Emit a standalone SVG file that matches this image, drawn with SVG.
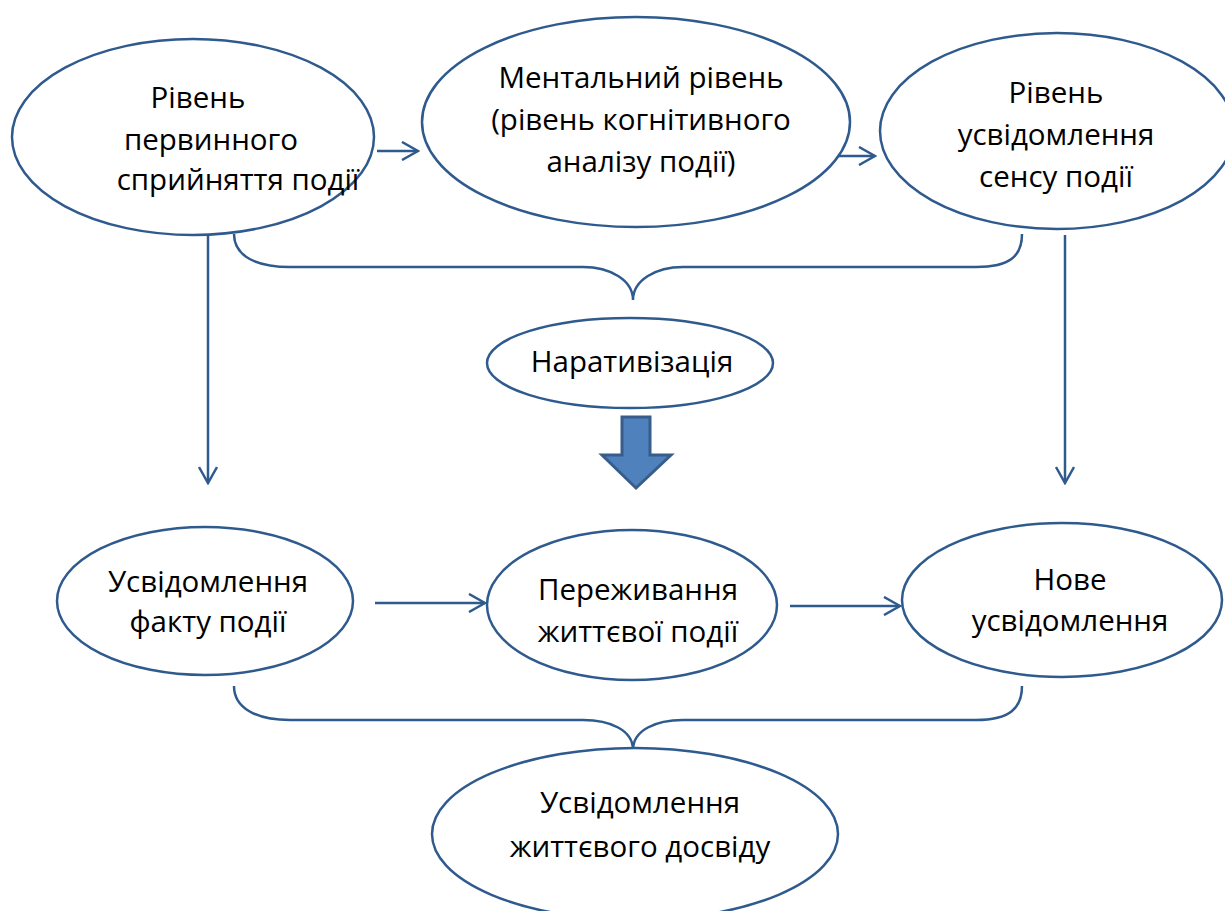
<svg xmlns="http://www.w3.org/2000/svg" width="1225" height="911" viewBox="0 0 1225 911">
<style>
.n ellipse{fill:#fff;stroke:#2F5A8E;stroke-width:2.5}
.n text{font-family:"Open Sans","Noto Sans",sans-serif;font-size:29.5px;fill:#000;text-anchor:middle}
.c path,.c line{fill:none;stroke:#2F5A8E;stroke-width:2.5}
.c path.block{fill:#4F81BD;stroke:#385D8A;stroke-width:3;stroke-linejoin:miter}
</style>
<defs>
<marker id="ah" viewBox="0 0 20 20" refX="18" refY="10" markerWidth="20" markerHeight="20" markerUnits="userSpaceOnUse" orient="auto">
<path d="M2 1 L18 10 L2 19" fill="none" stroke="#2F5A8E" stroke-width="2.5"/>
</marker>
</defs>
<rect width="1225" height="911" fill="#fff"/>
<g class="c" id="connectors">
<line x1="377" y1="151" x2="418" y2="151" marker-end="url(#ah)"/>
<line x1="833" y1="156" x2="875" y2="156" marker-end="url(#ah)"/>
<line x1="208" y1="235" x2="208" y2="483" marker-end="url(#ah)"/>
<line x1="1065" y1="235" x2="1065" y2="483" marker-end="url(#ah)"/>
<line x1="375" y1="603" x2="485" y2="603" marker-end="url(#ah)"/>
<line x1="790" y1="606" x2="900" y2="606" marker-end="url(#ah)"/>
<path d="M234 234 C234 256 256 267 290 267 H583 C610 267 633 280 633 300 C633 280 656 267 683 267 H976 C1010 267 1022 256 1022 234"/>
<path d="M234 686 C234 708 256 720 290 720 H583 C610 720 633 730 633 750 C633 730 656 720 683 720 H976 C1010 720 1022 708 1022 686"/>
<path class="block" d="M622 417 H650 V455 H671 L636 488 L602 455 H622 Z"/>
</g>
<g class="n" id="n1">
<ellipse cx="193" cy="137" rx="181" ry="98"/>
<text x="198" y="108">Рівень</text>
<text x="211" y="150">первинного</text>
<text x="238" y="190">сприйняття події</text>
</g>
<g class="n" id="n2">
<ellipse cx="636" cy="122" rx="214" ry="105"/>
<text x="641" y="88">Ментальний рівень</text>
<text x="641" y="130">(рівень когнітивного</text>
<text x="641" y="172">аналізу події)</text>
</g>
<g class="n" id="n3">
<ellipse cx="1057" cy="131" rx="177" ry="98"/>
<text x="1056" y="103">Рівень</text>
<text x="1056" y="145">усвідомлення</text>
<text x="1056" y="187">сенсу події</text>
</g>
<g class="n" id="n4">
<ellipse cx="630" cy="363" rx="143" ry="45"/>
<text x="632" y="372">Наративізація</text>
</g>
<g class="n" id="n5">
<ellipse cx="205" cy="601" rx="148" ry="74"/>
<text x="208" y="592">Усвідомлення</text>
<text x="208" y="632">факту події</text>
</g>
<g class="n" id="n6">
<ellipse cx="632" cy="605" rx="145" ry="75"/>
<text x="638" y="600">Переживання</text>
<text x="638" y="642">життєвої події</text>
</g>
<g class="n" id="n7">
<ellipse cx="1062" cy="600" rx="160" ry="77"/>
<text x="1070" y="590">Нове</text>
<text x="1070" y="631">усвідомлення</text>
</g>
<g class="n" id="n8">
<ellipse cx="635" cy="834" rx="203" ry="86"/>
<text x="640" y="813">Усвідомлення</text>
<text x="640" y="857">життєвого досвіду</text>
</g>
</svg>
